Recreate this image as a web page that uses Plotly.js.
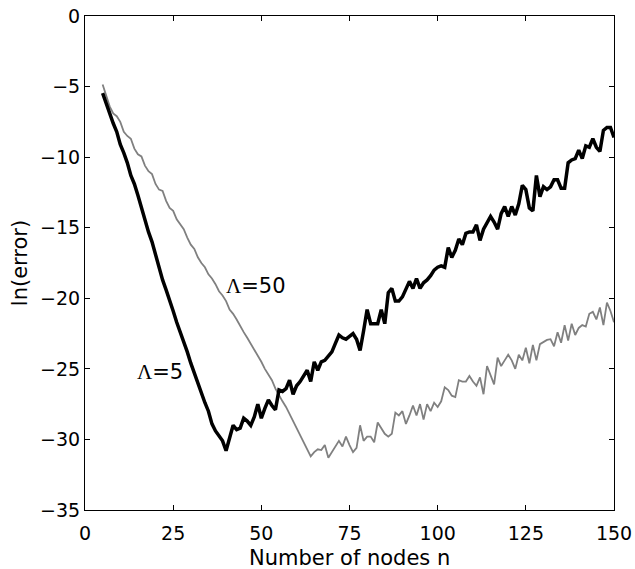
<!DOCTYPE html>
<html>
<head>
<meta charset="utf-8">
<script src="https://cdn.plot.ly/plotly-3.0.1.min.js"></script>
<style>html,body{margin:0;padding:0;background:#fff;}#plot{width:635px;height:569px;}</style>
</head>
<body>
<div id="plot"></div>
<script>
// Λ=5 series (thick black)
const nodesL5 = [5,6,7,8,9,10,11,12,13,14,15,16,17,18,19,20,21,22,23,24,25,26,27,28,29,30,31,32,33,34,35,36,37,38,39,40,
  41,42,43,44,45,46,47,48,49,50,51,52,53,54,55,56,57,58,59,60,61,62,63,64,65,66,67,68,69,70,71,72,73,74,75,76,77,78,79,80,
  81,82,83,84,85,86,87,88,89,90,91,92,93,94,95,96,97,98,99,100,101,102,103,104,105,106,107,108,109,110,111,112,113,114,115,
  116,117,118,119,120,121,122,123,124,125,126,127,128,129,130,131,132,133,134,135,136,137,138,139,140,141,142,143,144,145,
  146,147,148,149,150];
const errL5 = [-5.46,-6.2,-7.0,-7.6,-8.2,-9.1,-9.7,-10.4,-11.3,-11.9,-12.7,-13.6,-14.4,-15.3,-16.0,-16.9,-17.9,-18.7,-19.4,-20.1,
  -20.9,-21.7,-22.4,-23.0,-23.8,-24.6,-25.3,-26.1,-26.7,-27.4,-28.0,-28.9,-29.4,-29.8,-30.1,-30.8,
  -29.8,-29.0,-29.3,-29.2,-28.5,-28.7,-29.0,-28.4,-27.5,-28.5,-27.8,-27.2,-27.6,-27.9,-26.5,-26.6,-26.4,-25.8,-26.8,-26.2,
  -25.9,-25.5,-25.1,-25.9,-24.5,-25.1,-24.5,-24.4,-24.1,-23.8,-23.2,-22.6,-22.8,-22.9,-22.7,-22.5,-22.9,-23.7,-22.3,-20.8,
  -21.8,-21.8,-21.8,-20.8,-21.8,-19.6,-19.3,-20.2,-20.2,-19.9,-19.4,-18.8,-19.3,-18.6,-19.3,-18.9,-18.7,-18.4,-18.0,-17.8,
  -17.7,-17.8,-16.4,-17.1,-16.6,-15.8,-16.2,-15.4,-15.3,-15.3,-14.8,-15.9,-15.1,-14.6,-14.2,-14.6,-15.1,-14.0,-13.5,-14.2,
  -13.5,-14.1,-13.3,-12.0,-12.3,-13.6,-13.8,-11.3,-12.8,-12.1,-12.3,-12.1,-11.6,-11.6,-12.2,-12.2,-10.4,-10.2,-10.1,-9.5,
  -10.1,-9.2,-9.3,-8.7,-9.3,-9.6,-8.1,-7.9,-7.9,-8.6];

// Λ=50 series (thin grey)
const nodesL50 = nodesL5.slice();
const errL50 = [-4.85,-5.7,-6.4,-6.9,-7.1,-7.5,-8.2,-8.5,-8.7,-9.4,-9.8,-9.95,-10.6,-11.0,-11.2,-11.9,-12.3,-12.4,-13.1,-13.6,
  -13.8,-14.4,-14.8,-15.1,-15.7,-16.2,-16.5,-17.1,-17.5,-17.8,-18.3,-18.6,-19.0,-19.5,-19.8,-20.2,-20.8,-21.1,-21.5,-22.0,
  -22.4,-22.8,-23.2,-23.7,-24.1,-24.5,-25.0,-25.4,-25.8,-26.4,-26.9,-27.3,-27.7,-28.2,-28.6,-29.2,-29.7,-30.1,-30.7,-31.2,
  -30.9,-30.7,-30.75,-30.4,-31.3,-30.9,-30.5,-30.1,-30.5,-29.8,-30.4,-30.9,-30.6,-29.0,-30.1,-29.8,-29.8,-30.2,-28.8,-29.2,
  -29.6,-29.8,-29.6,-28.1,-28.3,-28.0,-28.9,-28.3,-27.6,-28.3,-27.5,-28.6,-27.5,-28.0,-27.4,-27.7,-27.3,-26.3,-26.5,-26.9,
  -27.0,-25.8,-25.9,-25.9,-25.5,-25.9,-26.2,-25.6,-26.8,-24.8,-25.4,-26.1,-24.2,-24.8,-24.4,-24.0,-24.4,-25.0,-24.0,-24.4,
  -23.5,-24.6,-23.3,-24.4,-23.25,-23.1,-22.95,-22.9,-23.4,-22.4,-23.15,-21.9,-23.0,-21.8,-22.6,-22.1,-21.9,-22.0,-21.1,-20.96,
  -21.5,-20.65,-21.9,-20.3,-20.9,-21.7];

const xTicks = [0,25,50,75,100,125,150];
const yTicks = [0,-5,-10,-15,-20,-25,-30,-35];
const xTitle = 'Number of nodes n';
const yTitle = 'ln(error)';

const labels = [
  {text: 'Λ=50', n: 48.5, v: -19.1},
  {text: 'Λ=5', n: 21.3, v: -25.2}
];

const traces = [
  {x: nodesL50, y: errL50, type: 'scatter', mode: 'lines', line: {color: '#808080', width: 1.8}, hoverinfo: 'skip'},
  {x: nodesL5, y: errL5, type: 'scatter', mode: 'lines', line: {color: '#000000', width: 3.5}, hoverinfo: 'skip'}
];

const FONT = 'DejaVu Sans, Liberation Sans, Arial, sans-serif';
const axisCommon = {
  showline: true, linecolor: '#000', linewidth: 1, mirror: 'ticks',
  ticks: 'inside', ticklen: 5, tickwidth: 1, tickcolor: '#000',
  showgrid: false, zeroline: false,
  tickfont: {family: FONT, size: 19, color: '#000'}
};

const annotations = labels.map(l => ({
  x: l.n, y: l.v, xref: 'x', yref: 'y', showarrow: false,
  text: '<span style="font-family:Liberation Serif">Λ</span>' + l.text.slice(1),
  font: {size: 21, color: '#000', family: FONT}
}));
// x-axis title placed below tick labels (axis titles are clamped inside the margin)
annotations.push({
  x: 0.5, y: -0.097, xref: 'paper', yref: 'paper', xanchor: 'center', yanchor: 'middle',
  showarrow: false, text: xTitle, font: {size: 21, color: '#000', family: FONT}
});

const layout = {
  width: 635, height: 569,
  margin: {l: 85, r: 21, t: 16, b: 59, pad: 0},
  paper_bgcolor: '#fff', plot_bgcolor: '#fff',
  showlegend: false,
  font: {family: FONT, color: '#000'},
  xaxis: Object.assign({}, axisCommon, {
    range: [0, 150], tickvals: xTicks, ticktext: xTicks.map(String),
    ticklabelstandoff: 6
  }),
  yaxis: Object.assign({}, axisCommon, {
    range: [-35, 0], tickvals: yTicks,
    title: {text: yTitle, font: {size: 21, family: FONT}, standoff: 6}
  }),
  annotations: annotations
};

Plotly.newPlot('plot', traces, layout, {staticPlot: true, displayModeBar: false});
</script>
</body>
</html>
